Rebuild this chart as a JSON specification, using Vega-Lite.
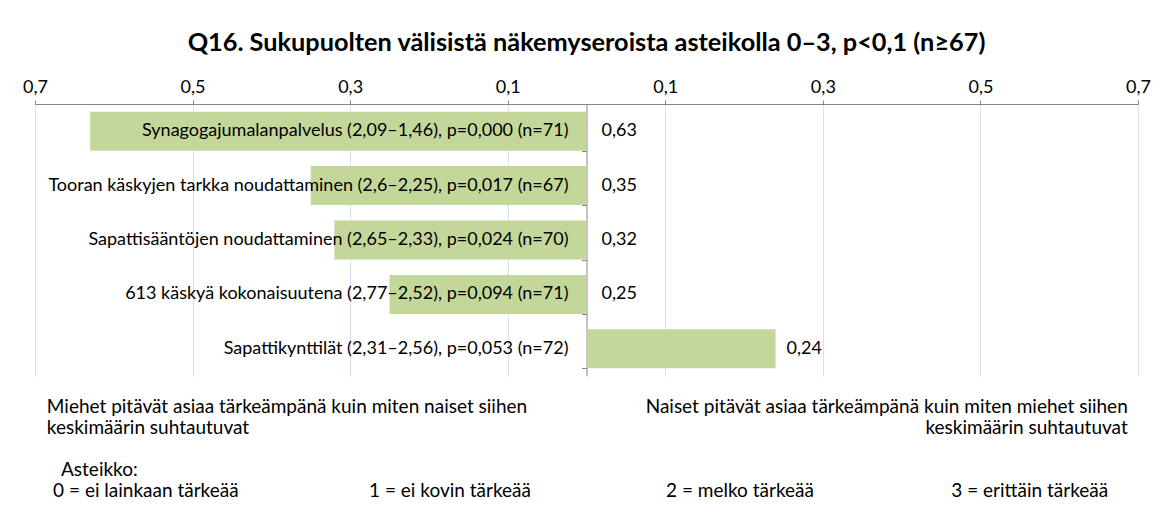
{
  "$schema": "https://vega.github.io/schema/vega-lite/v6.json",
  "padding": {"left": 22, "top": 30, "right": 20, "bottom": 0},
  "background": "white",
  "title": {
    "text": "Q16. Sukupuolten välisistä näkemyseroista asteikolla 0–3, p<0,1 (n≥67)",
    "fontSize": 25.3,
    "font": "Lato",
    "fontWeight": "bold",
    "color": "#000000",
    "anchor": "middle",
    "offset": 22
  },
  "config": {
    "font": "Lato",
    "view": {"stroke": null},
    "concat": {"spacing": 20}
  },
  "datasets": {
    "bars": [
      {"item": "Synagogajumalanpalvelus (2,09–1,46), p=0,000 (n=71)", "diff": -0.63, "label": "0,63"},
      {"item": "Tooran käskyjen tarkka noudattaminen (2,6–2,25), p=0,017 (n=67)", "diff": -0.35, "label": "0,35"},
      {"item": "Sapattisääntöjen noudattaminen (2,65–2,33), p=0,024 (n=70)", "diff": -0.32, "label": "0,32"},
      {"item": "613 käskyä kokonaisuutena (2,77–2,52), p=0,094 (n=71)", "diff": -0.25, "label": "0,25"},
      {"item": "Sapattikynttilät (2,31–2,56), p=0,053 (n=72)", "diff": 0.24, "label": "0,24"}
    ],
    "notes": [
      {"text": "Miehet pitävät asiaa tärkeämpänä kuin miten naiset siihen", "anchor": -0.685, "line": 1, "side": "left"},
      {"text": "keskimäärin suhtautuvat", "anchor": -0.685, "line": 2, "side": "left"},
      {"text": "Naiset pitävät asiaa tärkeämpänä kuin miten miehet siihen", "anchor": 0.687, "line": 1, "side": "right"},
      {"text": "keskimäärin suhtautuvat", "anchor": 0.687, "line": 2, "side": "right"},
      {"text": "Asteikko:", "anchor": -0.667, "line": 4, "side": "left"},
      {"text": "0 = ei lainkaan tärkeää", "anchor": -0.677, "line": 5, "side": "left"},
      {"text": "1 = ei kovin tärkeää", "anchor": -0.276, "line": 5, "side": "left"},
      {"text": "2 = melko tärkeää", "anchor": 0.101, "line": 5, "side": "left"},
      {"text": "3 = erittäin tärkeää", "anchor": 0.463, "line": 5, "side": "left"}
    ]
  },
  "vconcat": [
    {
      "width": 1103,
      "height": 272,
      "data": {"name": "bars"},
      "layer": [
        {
          "mark": {"type": "bar", "color": "#c4d79b"},
          "encoding": {
            "x": {
              "field": "diff",
              "type": "quantitative",
              "scale": {"domain": [-0.7, 0.7], "nice": false, "zero": false},
              "axis": {
                "orient": "top",
                "title": null,
                "values": [-0.7, -0.5, -0.3, -0.1, 0.1, 0.3, 0.5, 0.7],
                "labelExpr": "replace(format(abs(datum.value), '.1f'), '.', ',')",
                "labelFlush": false,
                "labelFontSize": 18,
                "labelColor": "#000000",
                "labelPadding": 4,
                "grid": true,
                "gridColor": "#d9e2ee",
                "domainColor": "#868686",
                "tickColor": "#868686",
                "tickSize": 4
              }
            },
            "y": {
              "field": "item",
              "type": "nominal",
              "sort": null,
              "scale": {"paddingInner": 0.283, "paddingOuter": 0.1415},
              "axis": {
                "orient": "left",
                "offset": -551.5,
                "labels": false,
                "title": null,
                "grid": false,
                "domainColor": "#868686",
                "tickColor": "#868686",
                "tickSize": 5,
                "tickBand": "extent"
              }
            }
          }
        },
        {
          "mark": {"type": "text", "align": "right", "baseline": "middle", "dx": -18, "fontSize": 18, "color": "#000000"},
          "encoding": {
            "x": {"datum": 0, "type": "quantitative"},
            "y": {"field": "item", "type": "nominal", "sort": null},
            "text": {"field": "item"}
          }
        },
        {
          "transform": [{"filter": "datum.diff < 0"}],
          "mark": {"type": "text", "align": "left", "baseline": "middle", "dx": 15, "fontSize": 18, "color": "#000000"},
          "encoding": {
            "x": {"datum": 0, "type": "quantitative"},
            "y": {"field": "item", "type": "nominal", "sort": null},
            "text": {"field": "label"}
          }
        },
        {
          "transform": [{"filter": "datum.diff >= 0"}],
          "mark": {"type": "text", "align": "left", "baseline": "middle", "dx": 11, "fontSize": 18, "color": "#000000"},
          "encoding": {
            "x": {"field": "diff", "type": "quantitative"},
            "y": {"field": "item", "type": "nominal", "sort": null},
            "text": {"field": "label"}
          }
        }
      ]
    },
    {
      "width": 1103,
      "height": 105,
      "data": {"name": "notes"},
      "layer": [
        {
          "transform": [{"filter": "datum.side == 'left'"}],
          "mark": {"type": "text", "align": "left", "baseline": "middle", "fontSize": 19, "color": "#000000"},
          "encoding": {
            "x": {"field": "anchor", "type": "quantitative", "scale": {"domain": [-0.7, 0.7], "nice": false, "zero": false}, "axis": null},
            "y": {"field": "line", "type": "ordinal", "scale": {"domain": [1, 2, 3, 4, 5]}, "axis": null},
            "text": {"field": "text"}
          }
        },
        {
          "transform": [{"filter": "datum.side == 'right'"}],
          "mark": {"type": "text", "align": "right", "baseline": "middle", "fontSize": 19, "color": "#000000"},
          "encoding": {
            "x": {"field": "anchor", "type": "quantitative", "axis": null},
            "y": {"field": "line", "type": "ordinal", "axis": null},
            "text": {"field": "text"}
          }
        }
      ]
    }
  ]
}
